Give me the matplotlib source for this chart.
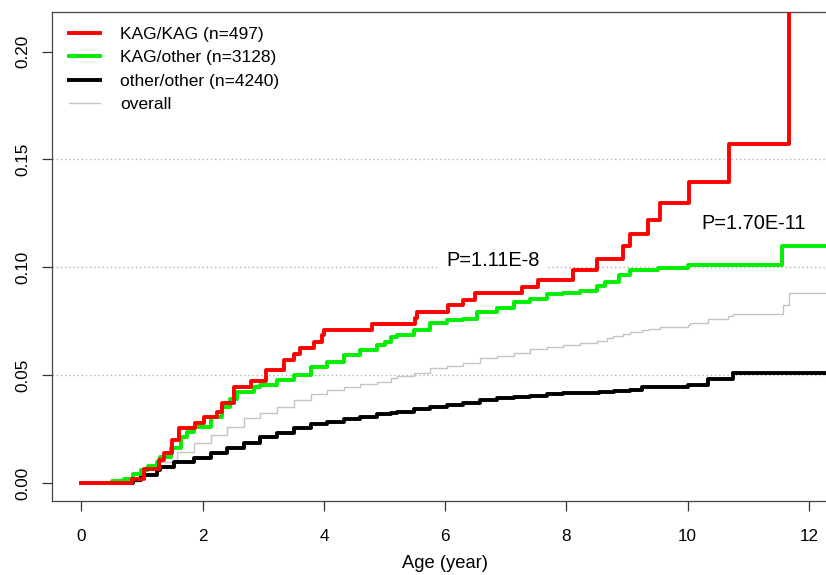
import matplotlib
matplotlib.use("Agg")
import matplotlib.pyplot as plt

plt.rcParams['font.family'] = ['Liberation Sans', 'DejaVu Sans']

# cumulative incidence (step functions)
red_t = [0, 0.84, 1.03, 1.28, 1.36, 1.50, 1.61, 1.88, 2.02, 2.24,
         2.32, 2.51, 2.79, 3.04, 3.34, 3.50, 3.61, 3.83, 3.97, 4.01,
         4.79, 5.51, 5.54, 6.05, 6.30, 6.49, 7.27, 7.53, 8.11, 8.50,
         8.94, 9.05, 9.34, 9.54, 10.03, 10.69, 11.67, 12.3]
red_v = [0, 0.002, 0.0063, 0.0106, 0.014, 0.020, 0.0253, 0.028, 0.0307, 0.033,
         0.0372, 0.0446, 0.0474, 0.0523, 0.0572, 0.060, 0.0626, 0.0655, 0.0685, 0.0708,
         0.0736, 0.0765, 0.0793, 0.0824, 0.085, 0.088, 0.091, 0.0943, 0.0988, 0.104,
         0.1097, 0.1156, 0.122, 0.1298, 0.1395, 0.1573, 0.30, 0.30]

green_t = [0, 0.51, 0.70, 0.85, 0.98, 1.10, 1.25, 1.30, 1.47, 1.64,
           1.75, 1.86, 2.13, 2.32, 2.45, 2.57, 2.84, 2.95, 3.23, 3.50,
           3.78, 4.05, 4.33, 4.60, 4.88, 5.00, 5.10, 5.21, 5.48, 5.75,
           6.03, 6.30, 6.52, 6.85, 7.13, 7.40, 7.68, 7.95, 8.23, 8.50,
           8.64, 8.86, 9.05, 9.51, 10.01, 11.56, 12.3]
green_v = [0, 0.001, 0.002, 0.004, 0.006, 0.008, 0.0099, 0.0122, 0.016, 0.0214,
           0.0235, 0.026, 0.0307, 0.0353, 0.039, 0.0423, 0.0443, 0.0454, 0.0477, 0.050,
           0.0538, 0.0562, 0.0593, 0.0616, 0.0639, 0.0655, 0.0677, 0.0685, 0.0711, 0.0742,
           0.0755, 0.0762, 0.0793, 0.0813, 0.0839, 0.0855, 0.0875, 0.0881, 0.089, 0.0911,
           0.0932, 0.0963, 0.0986, 0.0999, 0.1012, 0.1097, 0.1097]

black_t = [0, 0.85, 0.98, 1.25, 1.30, 1.53, 1.86, 2.13, 2.41, 2.68,
           2.95, 3.23, 3.50, 3.78, 4.05, 4.33, 4.60, 4.88, 5.10, 5.21,
           5.48, 5.75, 6.03, 6.30, 6.58, 6.85, 7.13, 7.40, 7.68, 7.95,
           8.23, 8.53, 8.78, 9.05, 9.24, 10.01, 10.34, 10.75, 12.26]
black_v = [0, 0.0015, 0.0035, 0.006, 0.0075, 0.0099, 0.0114, 0.0137, 0.016, 0.0187,
           0.0211, 0.023, 0.0253, 0.0273, 0.0284, 0.0295, 0.0307, 0.0318, 0.0326, 0.033,
           0.0341, 0.0353, 0.0361, 0.0372, 0.0384, 0.0392, 0.040, 0.0405, 0.041, 0.0415,
           0.0418, 0.0421, 0.0424, 0.0430, 0.0446, 0.0454, 0.0483, 0.0512, 0.0512]

gray_t = [0, 0.70, 0.98, 1.25, 1.30, 1.58, 1.86, 2.13, 2.41, 2.68,
          2.95, 3.23, 3.50, 3.78, 4.05, 4.33, 4.60, 4.88, 5.10, 5.21,
          5.48, 5.75, 6.03, 6.30, 6.58, 6.85, 7.13, 7.40, 7.68, 7.95,
          8.23, 8.50, 8.67, 8.77, 8.94, 9.05, 9.24, 9.35, 9.54, 10.01,
          10.04, 10.34, 10.37, 10.67, 10.75, 11.57, 11.67, 12.3]
gray_v = [0, 0.001, 0.0045, 0.0085, 0.0099, 0.0145, 0.0184, 0.0222, 0.0261, 0.030,
          0.0323, 0.035, 0.0384, 0.0412, 0.0431, 0.0446, 0.0458, 0.0469, 0.0485, 0.0495,
          0.0508, 0.0534, 0.0542, 0.0554, 0.0577, 0.0588, 0.0603, 0.062, 0.0631, 0.0639,
          0.0647, 0.0659, 0.067, 0.068, 0.069, 0.070, 0.0708, 0.0713, 0.0724, 0.0731,
          0.0742, 0.0758, 0.0762, 0.0773, 0.0782, 0.0824, 0.0883, 0.0883]

labels = ["KAG/KAG (n=497)", "KAG/other (n=3128)", "other/other (n=4240)", "overall"]
pvals = ["P=1.11E-8", "P=1.70E-11"]
pval_pos = [(6.79, 0.1032), (11.09, 0.1205)]

fig = plt.figure(figsize=(8.26, 5.75), dpi=100)
# the box runs past the right edge of the picture, as in the reference
ax = fig.add_axes([0.0633, 0.1287, 0.9512, 0.8504])
ax.set_xlim(-0.48, 12.48)
ax.set_ylim(-0.0084, 0.2184)

for y in [0.05, 0.10, 0.15]:
    ax.axhline(y, color="#b0b0b0", lw=1.0, ls=(0, (1, 2)), zorder=1)

ax.step(gray_t, gray_v, where="post", color="#c4c4c4", lw=1.0, label=labels[3], zorder=2)
ax.step(black_t, black_v, where="post", color="black", lw=2.8, label=labels[2], zorder=3)
ax.step(green_t, green_v, where="post", color="#00ee00", lw=2.8, label=labels[1], zorder=4)
ax.step(red_t, red_v, where="post", color="#ff0000", lw=2.8, label=labels[0], zorder=5)

for txt, (px, py) in zip(pvals, pval_pos):
    ax.text(px, py, txt, fontsize=14.4, ha="center", va="center", zorder=6,
            bbox=dict(facecolor="white", edgecolor="none", pad=6))

h, l = ax.get_legend_handles_labels()
order = [3, 2, 1, 0]
ax.legend([h[i] for i in order], [l[i] for i in order], loc="upper left",
          bbox_to_anchor=(0.0055, 0.995), frameon=False, fontsize=12.5,
          handlelength=1.8, handletextpad=1.15, labelspacing=0.48, borderpad=0.2)

ax.set_xticks([0, 2, 4, 6, 8, 10, 12])
ax.set_yticks([0.00, 0.05, 0.10, 0.15, 0.20])
ax.set_yticklabels(["0.00", "0.05", "0.10", "0.15", "0.20"])
ax.tick_params(length=7, width=0.9, color="#333333", labelsize=12.3, pad=9)
ax.tick_params(axis="x", pad=13)
for lab in ax.get_yticklabels():
    lab.set_rotation(90)
    lab.set_va("center")
for s in ax.spines.values():
    s.set_color("#444444")
    s.set_linewidth(0.9)

ax.set_xlabel("Age (year)", fontsize=13.2, labelpad=8)

fig.savefig("out.png", dpi=100)
